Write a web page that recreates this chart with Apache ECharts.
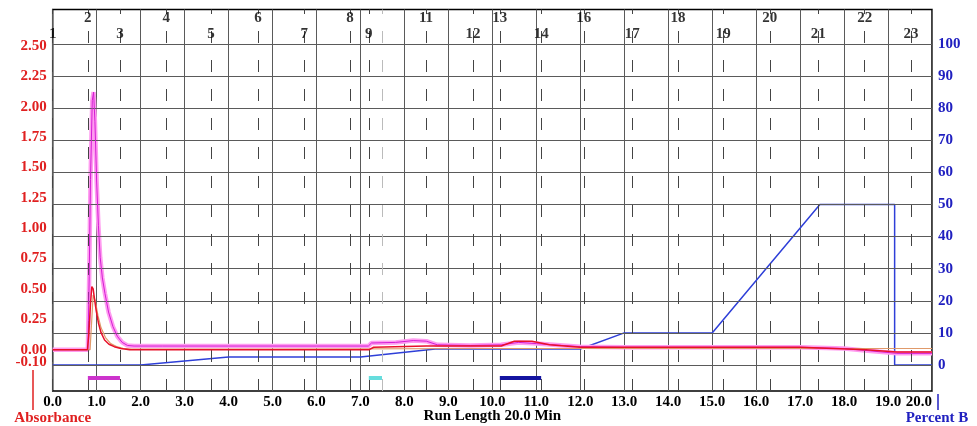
<!DOCTYPE html>
<html><head><meta charset="utf-8">
<script src="https://cdn.jsdelivr.net/npm/echarts@6/dist/echarts.min.js"></script>
<style>html,body{margin:0;padding:0;background:#fff}#c{width:977px;height:426px}</style>
</head><body><div id="c"></div>
<script>
// ---- data ----
const absTicks = [0.00,0.25,0.50,0.75,1.00,1.25,1.50,1.75,2.00,2.25,2.50];
const absBaseTick = [-0.10];
const pctTicks = [0,10,20,30,40,50,60,70,80,90,100];

const gradTime = [0, 2.0, 4.0, 7.0, 8.7, 12.0, 13.0, 15.0, 17.45, 19.15, 19.15, 20];
const gradPct  = [0, 0, 2.5, 2.5, 5, 5, 10, 10, 50, 50, 0, 0];

const magTime = [0,0.80,0.83,0.86,0.90,0.93,0.96,1.00,1.04,1.08,1.13,1.19,1.27,1.37,1.47,1.58,1.70,1.85,2.5,4,6,7.18,7.25,7.8,8.2,8.5,8.75,9.5,10.2,10.6,11.0,12.0,13,15,17,18.0,18.6,19.2,20];
const magAbs  = [0,0,0.60,1.40,2.05,2.12,1.88,1.38,1.02,0.76,0.59,0.46,0.31,0.19,0.11,0.06,0.035,0.03,0.03,0.03,0.03,0.03,0.055,0.06,0.075,0.07,0.04,0.035,0.04,0.06,0.05,0.025,0.02,0.02,0.02,0.01,-0.01,-0.03,-0.03];

const redTime = [0,0.79,0.82,0.86,0.89,0.92,0.95,0.99,1.04,1.10,1.18,1.28,1.40,1.55,1.75,3,7.2,7.3,8.5,9.5,10.2,10.5,10.9,11.3,12,15,17,18.5,19.2,20];
const redAbs  = [0,0,0.12,0.38,0.52,0.50,0.42,0.32,0.22,0.14,0.08,0.045,0.025,0.01,0.0,0.0,0.0,0.02,0.03,0.03,0.03,0.07,0.07,0.04,0.02,0.02,0.02,0.0,-0.02,-0.02];

const orgTime = [0,0.85,0.92,0.97,1.03,1.10,1.20,1.32,1.45,1.6,1.8,5,10,15,18,19,20];
const orgAbs  = [0,0,0.45,0.40,0.28,0.18,0.10,0.05,0.025,0.012,0.005,0.005,0.01,0.01,0.01,0.01,0.01];

const fracNums  = [1,2,3,4,5,6,7,8,9,10,11,12,13,14,16,17,18,19,20,21,22,23];
const fracTimes = [0.0,0.80,1.53,2.58,3.60,4.67,5.72,6.76,7.19,7.49,8.49,9.56,10.17,11.11,12.08,13.18,14.22,15.25,16.31,17.41,18.47,19.52];
const unlabeledFracs = [10];
const collectedFrom = [2,9,13];
const collectedTo   = [3,10,14];

// ---- build ----
const zip = (a,b) => a.map((v,i)=>[v,b[i]]);
const serif = 'Liberation Serif';
const fracTime = n => fracTimes[fracNums.indexOf(n)];

const labeled = fracNums.filter(n => unlabeledFracs.indexOf(n) < 0);
const upperY = 2.73, lowerY = 2.60, barY = -0.233;
const fracLabelData = labeled.map((n,i)=>({value:[fracTime(n), i%2 ? upperY : lowerY], name:String(n)}));

const barColors = ['#cc33cc','#66dddd','#1414a0'];
const barSeries = collectedFrom.map((f,i)=>({
  type:'line', xAxisIndex:0, yAxisIndex:0, symbol:'none', silent:true, z:6,
  lineStyle:{color:barColors[i], width:4},
  data:[[fracTime(f),barY],[fracTime(collectedTo[i]),barY]]
}));

const redLabel = {color:'#e02020', fontFamily:serif, fontWeight:'bold', fontSize:15, margin:6, hideOverlap:false, formatter:v=>v.toFixed(2)};
const absRange = {min:-0.34, max:2.8};

const chart = echarts.init(document.getElementById('c'));
chart.setOption({
  animation:false,
  backgroundColor:'#fff',
  grid:{left:52.7, right:45, top:9.5, bottom:35, show:true, borderColor:'#000', borderWidth:1.5,
    backgroundColor:'#fff', containLabel:false, outerBoundsMode:'none'},
  xAxis:{
    type:'value', min:0, max:20, interval:1,
    axisLine:{show:false, onZero:false}, axisTick:{show:false},
    splitLine:{show:true, lineStyle:{color:'#5a5a5a', width:1}},
    axisLabel:{color:'#000', fontFamily:serif, fontWeight:'bold', fontSize:15, margin:4,
      formatter:v=>v.toFixed(1), alignMaxLabel:'right'},
    name:'Run Length 20.0 Min', nameLocation:'middle', nameGap:18, nameMoveOverlap:false,
    nameTextStyle:{color:'#000', fontFamily:serif, fontWeight:'bold', fontSize:15}
  },
  yAxis:[{
    type:'value', ...absRange, position:'left',
    axisLine:{show:false}, axisTick:{show:false}, splitLine:{show:false},
    axisLabel:{customValues:absTicks, ...redLabel},
    name:'Absorbance', nameLocation:'start', nameGap:20,
    nameTextStyle:{color:'#e02020', fontFamily:serif, fontWeight:'bold', fontSize:15}
  },{
    type:'value', min:-8.1, max:110.75, position:'right',
    axisLine:{show:false}, axisTick:{show:false}, splitLine:{show:false},
    axisLabel:{customValues:pctTicks, hideOverlap:false, color:'#2020c0', fontFamily:serif, fontWeight:'bold', fontSize:15, margin:6,
      formatter:v=>String(v)},
    name:'Percent B', nameLocation:'start', nameGap:20,
    nameTextStyle:{color:'#2020c0', fontFamily:serif, fontWeight:'bold', fontSize:15, padding:[0,0,0,10]}
  },{
    type:'value', ...absRange, position:'left', offset:0,
    axisLine:{show:false}, axisTick:{show:false}, splitLine:{show:false},
    axisLabel:{customValues:absBaseTick, ...redLabel}
  }],
  graphic:[
    {type:'line', shape:{x1:33,y1:370,x2:33,y2:410}, style:{stroke:'#e02020', lineWidth:1.5}},
    {type:'line', shape:{x1:938,y1:394,x2:938,y2:410}, style:{stroke:'#2020c0', lineWidth:1.5}}
  ],
  series:[
    {type:'line', name:'grid', yAxisIndex:1, data:[], silent:true,
      markLine:{silent:true, symbol:'none', label:{show:false},
        lineStyle:{color:'#5a5a5a', width:1, type:'solid'},
        data:pctTicks.map(v=>({yAxis:v}))}},
    {type:'line', name:'fractions', yAxisIndex:0, data:[], silent:true,
      markLine:{silent:true, symbol:'none', label:{show:false},
        data:fracNums.map(n=>({xAxis:fracTime(n),
          lineStyle:{color: unlabeledFracs.indexOf(n)>=0 ? '#bbbbbb' : '#444', width:1, type:[12,17]}}))}},
    {type:'line', name:'%B', yAxisIndex:1, symbol:'none', z:3,
      lineStyle:{color:'#2e3fd8', width:1.5}, data:zip(gradTime,gradPct)},
    {type:'line', name:'A2 halo', yAxisIndex:0, symbol:'none', z:4,
      lineStyle:{color:'#ff9cf0', width:4.5}, data:zip(magTime,magAbs)},
    {type:'line', name:'A3', yAxisIndex:0, symbol:'none', z:5,
      lineStyle:{color:'#e09a6a', width:1.2}, data:zip(orgTime,orgAbs)},
    {type:'line', name:'A2', yAxisIndex:0, symbol:'none', z:5,
      lineStyle:{color:'#d41cd4', width:1}, data:zip(magTime,magAbs)},
    {type:'line', name:'A1', yAxisIndex:0, symbol:'none', z:5,
      lineStyle:{color:'#e8102a', width:1.5}, data:zip(redTime,redAbs)},
    ...barSeries,
    {type:'scatter', name:'fracLabels', yAxisIndex:0, symbolSize:0, silent:true, z:7,
      label:{show:true, position:'inside', formatter:p=>p.name, color:'#000',
        fontFamily:serif, fontWeight:'bold', fontSize:15},
      data:fracLabelData}
  ]
});
</script></body></html>
